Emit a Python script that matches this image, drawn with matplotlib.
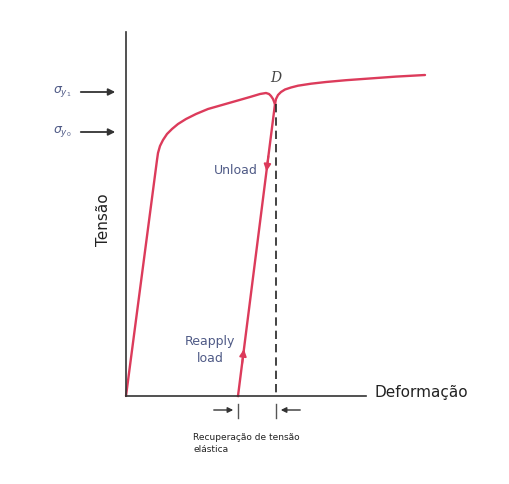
import matplotlib.pyplot as plt

# curva tensao-deformacao (coordenadas lidas em pixels a partir da origem)
carga_x = [0, 31, 32, 34, 37, 41, 46, 52, 60, 70, 82, 96, 110, 124, 134, 140, 143, 145, 147, 149]
carga_y = [0, 236, 243, 250, 256, 262, 267, 272, 277, 282, 287, 291, 295, 299, 302, 303, 302, 300, 297, 292]
pos_x = [149, 150, 152, 155, 159, 165, 172, 185, 200, 220, 245, 270, 299]
pos_y = [292, 297, 301, 304, 306.5, 308.5, 310.3, 312.3, 314, 315.8, 317.6, 319.4, 321]
descarga_x = [149, 112]
descarga_y = [292, 0]
sigma_y = [304, 264]
sigma_nomes = [r'$\sigma_{y_1}$', r'$\sigma_{y_0}$']

vermelho = '#dc3b5b'
texto_azul = '#4f5a86'

fig = plt.figure(figsize=(5.09, 4.84), dpi=100)
ax = fig.add_axes([126 / 509, 88 / 484, 240 / 509, 364 / 484])
ax.set_xlim(0, 240)
ax.set_ylim(0, 364)

for lado in ['top', 'right']:
    ax.spines[lado].set_visible(False)
for lado in ['left', 'bottom']:
    ax.spines[lado].set_color('#333333')
    ax.spines[lado].set_linewidth(1.2)
ax.set_xticks([])
ax.set_yticks([])

ax.plot(carga_x, carga_y, color=vermelho, lw=1.7, clip_on=False, solid_capstyle='round',
        solid_joinstyle='round')
ax.plot(pos_x, pos_y, color=vermelho, lw=1.7, clip_on=False, solid_capstyle='round',
        solid_joinstyle='round')
ax.plot(descarga_x, descarga_y, color=vermelho, lw=1.7, clip_on=False)
ax.plot([descarga_x[0] + 1, descarga_x[0] + 1], [descarga_y[0], 0], color='#222222',
        lw=1.2, ls=(0, (5, 3)))

# setas sobre a linha de descarga
def ponto(t):
    return (descarga_x[0] + t * (descarga_x[1] - descarga_x[0]),
            descarga_y[0] + t * (descarga_y[1] - descarga_y[0]))

a, b = ponto(0.17), ponto(0.24)
ax.annotate('', xy=b, xytext=a, arrowprops=dict(arrowstyle='-|>', color=vermelho, lw=1.4,
                                                  mutation_scale=10))
a, b = ponto(0.9), ponto(0.83)
ax.annotate('', xy=b, xytext=a, arrowprops=dict(arrowstyle='-|>', color=vermelho, lw=1.4,
                                                  mutation_scale=10))

ax.text(132, 226, 'Unload', color=texto_azul, fontsize=9, ha='right', va='center')
ax.text(84, 46, 'Reapply\nload', color=texto_azul, fontsize=9, ha='center', va='center',
        linespacing=1.4)
ax.text(150, 318, 'D', fontsize=10, style='italic', family='DejaVu Serif',
        color='#444444', ha='center', va='center')

# setas de tensao de escoamento
for yv, nome in zip(sigma_y, sigma_nomes):
    ax.annotate('', xy=(-8, yv), xytext=(-48, yv), annotation_clip=False,
                arrowprops=dict(arrowstyle='-|>', color='#333333', lw=1.3,
                                mutation_scale=10))
    ax.text(-64, yv, nome, fontsize=9, color=texto_azul, ha='center', va='center')

# recuperacao elastica
for xv in [descarga_x[1], descarga_x[0] + 1]:
    ax.plot([xv, xv], [-8, -22], color='#555555', lw=1, clip_on=False)
ax.annotate('', xy=(descarga_x[1] - 2, -14), xytext=(descarga_x[1] - 27, -14),
            annotation_clip=False,
            arrowprops=dict(arrowstyle='-|>', color='#333333', lw=1, mutation_scale=8))
ax.annotate('', xy=(descarga_x[0] + 3, -14), xytext=(descarga_x[0] + 28, -14),
            annotation_clip=False,
            arrowprops=dict(arrowstyle='-|>', color='#333333', lw=1, mutation_scale=8))
ax.text(67, -37, 'Recuperação de tensão\nelástica', fontsize=6.5, ha='left', va='top',
        color='#222222', linespacing=1.4)

ax.text(249, 4, 'Deformação', fontsize=11, ha='left', va='center', color='#222222')
ax.text(-23, 176, 'Tensão', fontsize=11, rotation=90, ha='center', va='center',
        color='#222222')

fig.savefig('out.png', dpi=100)
